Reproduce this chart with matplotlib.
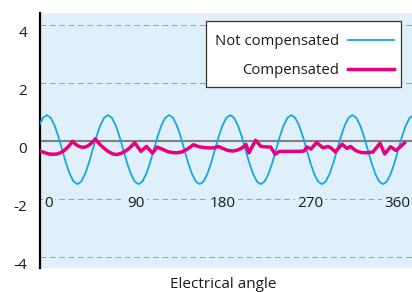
import numpy as np
import matplotlib
matplotlib.use("Agg")
import matplotlib.pyplot as plt
from matplotlib.patches import Rectangle
from matplotlib.transforms import ScaledTranslation

plt.rcParams['font.family'] = ['Open Sans', 'DejaVu Sans']
plt.rcParams['axes.unicode_minus'] = False

# axis labels
x_ticks = [0, 90, 180, 270, 360]
x_tick_labels = ['0', '90', '180', '270', '360']
y_ticks = [-4, -2, 0, 2, 4]
y_tick_labels = ['-4', '-2', '0', '2', '4']

# not compensated (sampled evenly over the visible span)
raw_x = np.linspace(-10.1, 377.0, 99)
raw_y = [0.54, 0.80,
         0.89, 0.80, 0.54, 0.16, -0.30, -0.76, -1.14, -1.40, -1.49, -1.40, -1.14, -0.76, -0.30, 0.16, 0.54, 0.80,
         0.89, 0.80, 0.54, 0.16, -0.30, -0.76, -1.14, -1.40, -1.49, -1.40, -1.14, -0.76, -0.30, 0.16, 0.54, 0.80,
         0.89, 0.80, 0.54, 0.16, -0.30, -0.76, -1.14, -1.40, -1.49, -1.40, -1.14, -0.76, -0.30, 0.16, 0.54, 0.80,
         0.89, 0.80, 0.54, 0.16, -0.30, -0.76, -1.14, -1.40, -1.49, -1.40, -1.14, -0.76, -0.30, 0.16, 0.54, 0.80,
         0.89, 0.80, 0.54, 0.16, -0.30, -0.76, -1.14, -1.40, -1.49, -1.40, -1.14, -0.76, -0.30, 0.16, 0.54, 0.80,
         0.89, 0.80, 0.54, 0.16, -0.30, -0.76, -1.14, -1.40, -1.49, -1.40, -1.14, -0.76, -0.30, 0.16, 0.54, 0.80,
         0.89]

# compensated
comp_x = [-8.3, -4.1, 0.0, 4.1, 8.3, 12.4, 16.5, 20.7, 24.5, 26.9, 30.0, 33.1, 36.2, 39.3,
          42.4, 45.5, 47.9, 50.7, 53.8, 57.9, 62.0, 66.2, 70.3, 74.5, 78.6, 82.7, 85.8, 88.6,
          95.1, 100.8, 107.0, 111.7, 116.9, 122.0, 127.2, 132.4, 137.5, 142.7, 149.4, 154.1,
          158.2, 164.4, 170.6, 174.8, 179.9, 185.1, 190.3, 195.5, 200.6, 203.7, 206.8, 213.6,
          219.2, 226.5, 229.1, 234.0, 238.4, 244.0, 251.3, 258.5, 263.7, 266.8, 270.9, 276.8,
          283.3, 288.5, 291.6, 296.1, 303.0, 308.2, 311.8, 317.0, 322.6, 327.8, 335.1, 342.3,
          347.2, 353.2, 358.8, 367.6]
comp_y = [-0.36, -0.41, -0.45, -0.46, -0.45, -0.40, -0.31, -0.17, -0.01, -0.10, -0.17, -0.21, -0.22, -0.19,
          -0.12, -0.02, 0.07, -0.05, -0.16, -0.28, -0.38, -0.45, -0.47, -0.43, -0.36, -0.26, -0.16, -0.06,
          -0.36, -0.19, -0.42, -0.21, -0.28, -0.36, -0.40, -0.41, -0.38, -0.29, -0.13, -0.19,
          -0.22, -0.24, -0.24, -0.19, -0.26, -0.33, -0.35, -0.31, -0.22, -0.12, -0.41, 0.02,
          -0.19, -0.21, -0.21, -0.46, -0.36, -0.36, -0.36, -0.36, -0.35, -0.21, -0.28, -0.05,
          -0.24, -0.19, -0.24, -0.38, -0.11, -0.26, -0.19, -0.33, -0.40, -0.41, -0.38, -0.08,
          -0.45, -0.20, -0.33, -0.07]

bg = '#dff0fa'
blue = '#14a8e3'
magenta = '#e5007d'
text_c = '#1a1a1a'

W, H = 412, 292
fig = plt.figure(figsize=(W / 100, H / 100), dpi=100)
ax = fig.add_axes([40 / W, 24.3 / H, 372 / W, 255 / H])
ax.set_facecolor(bg)
ax.set_xlim(-9.3, 375.4)
ax.set_ylim(-4.37, 4.42)

for s in ['top', 'right', 'bottom']:
    ax.spines[s].set_visible(False)
ax.spines['left'].set_linewidth(1.6)
ax.spines['left'].set_color('black')

ax.set_yticks(y_ticks)
ax.set_yticklabels(y_tick_labels, fontsize=11, color=text_c)
ax.tick_params(axis='y', length=0, pad=9.4)
for lab in ax.get_yticklabels():
    lab.set_transform(lab.get_transform() + ScaledTranslation(0, -6.5 / 100, fig.dpi_scale_trans))
ax.set_xticks([])

ax.grid(True, axis='y', color='#a0a0a0', linestyle=(0, (5.5, 3.5)), linewidth=0.75)
ax.set_axisbelow(True)
ax.axhline(0, color='#808080', lw=1.5, zorder=2)

ax.plot(raw_x, raw_y, color=blue, lw=1.3, zorder=3, label='Not compensated')
ax.plot(comp_x, comp_y, color=magenta, lw=2.5, zorder=4, label='Compensated')

for xv, lab in zip(x_ticks, x_tick_labels):
    ax.text(xv, -2.14, lab, ha='center', va='center', fontsize=11, color=text_c,
            bbox=dict(fc=bg, ec='none', pad=1.5), zorder=5)

# legend box drawn separately (taller than the default padding gives)
frame = Rectangle((205.7 / W, 1 - 87.3 / H), 195 / W, 66 / H, transform=fig.transFigure,
                  facecolor='white', edgecolor='#333333', lw=0.9, zorder=4.5, clip_on=False)
ax.add_patch(frame)
leg = ax.legend(loc='upper right', bbox_to_anchor=(394 / W, 1 - 34 / H),
                bbox_transform=fig.transFigure, borderaxespad=0, borderpad=0,
                markerfirst=False, frameon=False, fontsize=10.7,
                handlelength=3.1, handletextpad=0.6, labelspacing=0.95)
leg.set_zorder(6)
for t in leg.get_texts():
    t.set_color(text_c)

fig.text(222.8 / W, 4 / H, 'Electrical angle', ha='center', va='baseline',
         fontsize=11, color=text_c)

fig.savefig('out.png', dpi=100)
